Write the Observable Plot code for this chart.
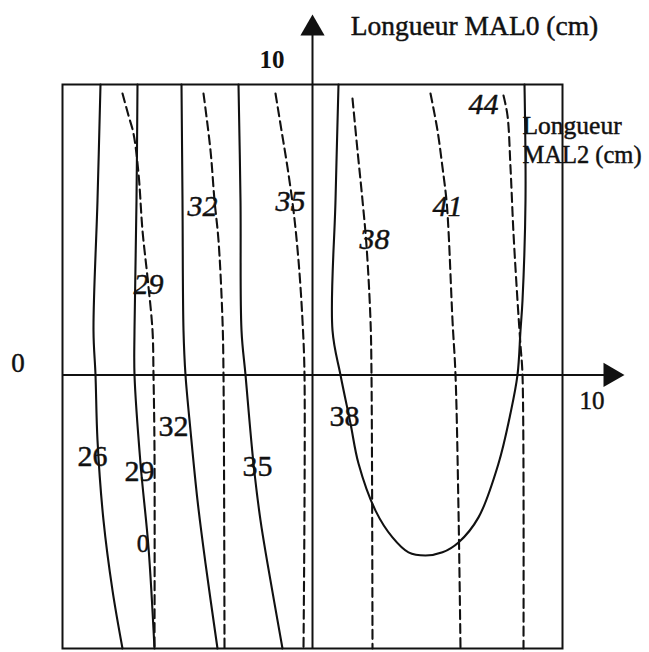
<!DOCTYPE html>
<html>
<head>
<meta charset="utf-8">
<script src="https://cdn.jsdelivr.net/npm/d3@7"></script>
<script src="https://cdn.jsdelivr.net/npm/@observablehq/plot@0.6"></script>
<style>
  html, body { margin: 0; padding: 0; background: #fff; }
  svg { display: block; }
</style>
</head>
<body>
<div id="chart"></div>
<script>
// Iso-response curves over the plane (MAL2 length, MAL0 length), in cm.
// Solid curves: one response; dashed curves: the other.
const solidLevels = [26, 29, 32, 35, 38];
const solid26 = [[-8.48, 10.3], [-8.6, 6.19], [-8.76, 1.58], [-8.68, 0], [-8.6, -2.32], [-8.36, -5.16], [-8.0, -7.64], [-7.6, -9.7]];
const solid29 = [[-7.0, 10.3], [-7.04, 6.19], [-7.12, 1.58], [-7.12, 0], [-6.88, -3.14], [-6.56, -6.12], [-6.32, -9.7]];
const solid32 = [[-5.24, 10.3], [-5.2, 6.19], [-5.16, 1.58], [-5.08, 0], [-4.88, -1.97], [-4.6, -4.45], [-4.28, -6.68], [-3.8, -9.7]];
const solid35 = [[-2.96, 10.3], [-2.88, 6.19], [-2.84, 1.58], [-2.68, 0], [-2.36, -3.14], [-2.08, -5.16], [-1.8, -6.68], [-1.2, -9.7]];
const solid38 = [[1.04, 10.3], [0.92, 6.19], [0.8, 1.58], [1.12, 0], [1.52, -1.72], [1.84, -3.14], [2.52, -4.81], [3.2, -5.76],
                 [3.84, -6.29], [4.52, -6.4], [5.2, -6.29], [5.84, -5.94], [6.64, -5.05], [7.44, -3.14], [7.92, -1.36],
                 [8.2, 0], [8.32, 1.58], [8.4, 2.64], [8.52, 6.19], [8.48, 10.3]];
const solidCurves = [solid26, solid29, solid32, solid35, solid38];
const solidLabelAt = [[-8.8, -2.89], [-6.92, -3.42], [-5.56, -1.83], [-2.2, -3.24], [1.28, -1.47]];

const dashedLevels = [29, 32, 35, 38, 41, 44];
const dashed29 = [[-7.6, 9.98], [-7.36, 9.2], [-7.16, 8.56], [-6.96, 7.15], [-6.8, 5.12], [-6.6, 3.46], [-6.4, 1.58], [-6.36, 0], [-6.32, -2.68], [-6.32, -9.7]];
const dashed32 = [[-4.36, 9.98], [-4.08, 7.96], [-3.92, 6.19], [-3.76, 4.77], [-3.6, 1.93], [-3.56, 0], [-3.52, -9.7]];
const dashed35 = [[-1.48, 9.98], [-1.24, 8.67], [-1.0, 7.36], [-0.76, 5.83], [-0.56, 4.06], [-0.4, 1.93], [-0.32, 0], [-0.36, -9.7]];
const dashed38 = [[1.6, 9.8], [1.8, 7.96], [2.0, 6.19], [2.16, 4.59], [2.32, 1.93], [2.36, 0], [2.4, -9.7]];
const dashed41 = [[4.72, 9.98], [5.0, 8.67], [5.2, 7.36], [5.36, 6.19], [5.44, 5.12], [5.6, 1.93], [5.72, 0], [5.84, -4.81], [5.92, -9.7]];
const dashed44 = [[7.64, 9.91], [7.8, 9.2], [7.92, 7.36], [8.04, 5.02], [8.2, 2.64], [8.32, 1.05], [8.4, 0], [8.44, -9.7]];
const dashedCurves = [dashed29, dashed32, dashed35, dashed38, dashed41, dashed44];
const dashedLabelAt = [[-6.56, 3.21], [-4.4, 5.98], [-0.88, 6.15], [2.48, 4.8], [5.4, 5.98], [6.84, 9.59]];

// Axis annotations
const axisTitleY = "Longueur MAL0 (cm)";
const axisTitleX = ["Longueur", "MAL2 (cm)"];
const tickTop = "10";
const tickLeft = "0";
const tickRight = "10";
const strayLabel = "0";

// Tables for the marks
const toRows = (levels, curves) => levels.flatMap((level, i) =>
  curves[i].map(([x, y]) => ({level, id: `${level}-${i}`, x, y})));
const toLabels = (levels, at) => levels.map((level, i) => ({level, x: at[i][0], y: at[i][1]}));

const solidRows = toRows(solidLevels, solidCurves);
const dashedRows = toRows(dashedLevels, dashedCurves);
const solidLabels = toLabels(solidLevels, solidLabelAt);
const dashedLabels = toLabels(dashedLevels, dashedLabelAt);

const serif = "'Liberation Serif', 'Times New Roman', serif";
const ink = "#111";
// shared text styling: a thin outline in the ink colour gives the printed weight
const txt = (extra) => ({fontFamily: serif, fill: ink, stroke: ink, strokeWidth: 0.45, ...extra});

const chart = Plot.plot({
  width: 649,
  height: 652,
  marginLeft: 62,
  marginRight: 87,
  marginTop: 84,
  marginBottom: 4,
  x: {domain: [-10, 10], axis: null},
  y: {domain: [-9.7, 10.3], axis: null},
  style: {background: "#fff", color: ink, fontFamily: serif},
  marks: [
    Plot.frame({stroke: ink, strokeWidth: 2}),
    // axes through the origin with arrow heads
    Plot.ruleY([0], {x1: -10, x2: 11.9, stroke: ink, strokeWidth: 2}),
    Plot.ruleX([0], {y1: -9.7, y2: 12.3, stroke: ink, strokeWidth: 2}),
    Plot.dot([{x: 0, y: 12.29}], {x: "x", y: "y", symbol: "triangle", r: 9, fill: ink, stroke: null}),
    Plot.dot([{x: 11.92, y: 0}], {x: "x", y: "y", symbol: "triangle", r: 9, fill: ink, stroke: null, rotate: 90}),
    // iso-response curves
    Plot.line(solidRows, {x: "x", y: "y", z: "id", curve: "catmull-rom", stroke: ink, strokeWidth: 2.1}),
    Plot.line(dashedRows, {x: "x", y: "y", z: "id", curve: "catmull-rom", stroke: ink, strokeWidth: 2.1, strokeDasharray: "9,5"}),
    // curve labels
    Plot.text(solidLabels, {x: "x", y: "y", text: d => String(d.level), ...txt({fontSize: 30})}),
    Plot.text(dashedLabels, {x: "x", y: "y", text: d => String(d.level), ...txt({fontSize: 30, fontStyle: "italic"})}),
    Plot.text([strayLabel], {x: -6.78, y: -6.01, text: d => d, ...txt({fontSize: 25})}),
    // axis annotations
    Plot.text([tickTop], {x: -1.62, y: 11.17, text: d => d, ...txt({fontSize: 25, fontWeight: "bold", strokeWidth: 0})}),
    Plot.text([tickLeft], {x: -11.78, y: 0.41, text: d => d, ...txt({fontSize: 27})}),
    Plot.text([tickRight], {x: 11.18, y: -0.94, text: d => d, ...txt({fontSize: 25})}),
    Plot.text([axisTitleY], {x: 6.48, y: 12.37, text: d => d, ...txt({fontSize: 27.5})}),
    Plot.text([axisTitleX[0]], {x: 8.4, y: 8.85, text: d => d, textAnchor: "start", ...txt({fontSize: 25.5})}),
    Plot.text([axisTitleX[1]], {x: 8.4, y: 7.79, text: d => d, textAnchor: "start", ...txt({fontSize: 24.5})})
  ]
});

document.getElementById("chart").appendChild(chart);
</script>
</body>
</html>
